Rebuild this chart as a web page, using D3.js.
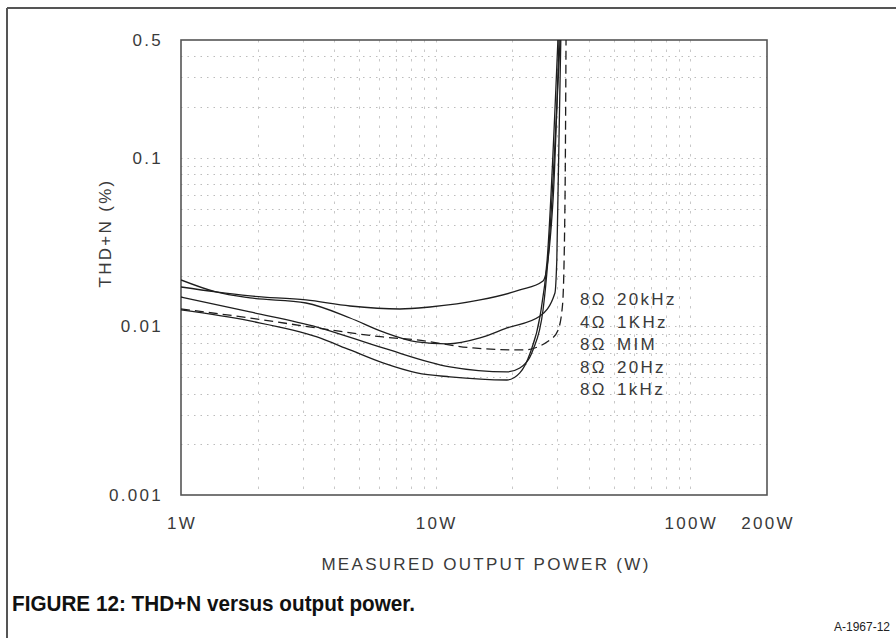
<!DOCTYPE html>
<html>
<head>
<meta charset="utf-8">
<script src="https://cdn.jsdelivr.net/npm/d3@7"></script>
<style>
  html, body { margin: 0; padding: 0; background: #fff; }
  svg { display: block; }
  .lbl { font-family: "Liberation Sans", Arial, sans-serif; font-size: 17px; fill: #3a3a3a; letter-spacing: 2.3px; }
</style>
</head>
<body>
<svg id="chart" width="896" height="638"></svg>
<script>
// ---- data ----
const seriesNames = ["8Ω  20kHz", "4Ω  1KHz", "8Ω  MIM", "8Ω  20Hz", "8Ω  1kHz"];
const seriesDashed = [false, false, true, false, false];

const power20k = [1, 1.372, 1.866, 3.096, 4.61, 7.24, 9.50, 14.93, 21.4, 26.4, 28.9, 30.5];
const thd20k   = [0.01714, 0.01601, 0.01516, 0.01435, 0.01322, 0.01269, 0.01304, 0.01435, 0.01645, 0.01861, 0.0562, 0.5];

const power4o1k = [1, 1.372, 1.866, 3.096, 4.61, 6.21, 8.44, 11.08, 14.93, 19.05, 25.7, 29.4, 29.9, 31.0];
const thd4o1k   = [0.01886, 0.01601, 0.01475, 0.01377, 0.01122, 0.00927, 0.00809, 0.00787, 0.00854, 0.00979, 0.01153, 0.01579, 0.02478, 0.5];

const powerMIM = [1, 1.866, 3.42, 6.21, 8.44, 14.01, 22.0, 28.1, 30.2, 31.5, 32.2, 32.5];
const thdMIM   = [0.01269, 0.01122, 0.00979, 0.00866, 0.00831, 0.00745, 0.00725, 0.00831, 0.00946, 0.0135, 0.0562, 0.5];

const power20 = [1, 1.866, 3.42, 6.21, 11.38, 19.05, 21.4, 24.1, 26.4, 27.6, 30.8];
const thd20   = [0.01495, 0.01218, 0.00992, 0.00745, 0.00575, 0.00537, 0.00567, 0.00725, 0.01252, 0.02478, 0.5];

const power1k = [1, 1.866, 3.42, 4.61, 6.21, 8.44, 11.38, 19.05, 21.4, 23.5, 25.7, 27.4, 30.2];
const thd1k   = [0.01252, 0.01077, 0.00866, 0.00725, 0.00607, 0.00530, 0.00502, 0.00481, 0.00530, 0.00696, 0.01153, 0.02478, 0.5];

const seriesPower = [power20k, power4o1k, powerMIM, power20, power1k];
const seriesThd   = [thd20k, thd4o1k, thdMIM, thd20, thd1k];

const xTickValues = [1, 10, 100, 200];
const xTickLabels = ["1W", "10W", "100W", "200W"];
const yTickValues = [0.5, 0.1, 0.01, 0.001];
const yTickLabels = ["0.5", "0.1", "0.01", "0.001"];

const xGrid = [2, 3, 4, 5, 6, 7, 8, 9, 10, 20, 30, 40, 50, 60, 70, 80, 90, 100];
const yGrid = [0.002, 0.003, 0.004, 0.005, 0.006, 0.007, 0.008, 0.009,
               0.01, 0.02, 0.03, 0.04, 0.05, 0.06, 0.07, 0.08, 0.09,
               0.1, 0.2, 0.3, 0.4];

const xTitle = "MEASURED OUTPUT POWER (W)";
const yTitle = "THD+N (%)";
const caption = "FIGURE 12: THD+N versus output power.";
const figId = "A-1967-12";

// ---- layout ----
const svg = d3.select("#chart");
const W = 896, H = 638;
const plot = { left: 181, top: 40, right: 767, bottom: 495 };

svg.append("rect").attr("width", W).attr("height", H).attr("fill", "#fff");

// outer frame (top and left rules)
svg.append("line").attr("x1", 7).attr("x2", W).attr("y1", 8).attr("y2", 8)
  .attr("stroke", "#555").attr("stroke-width", 2);
svg.append("line").attr("x1", 7).attr("x2", 7).attr("y1", 8).attr("y2", H)
  .attr("stroke", "#555").attr("stroke-width", 2);

const x = d3.scaleLog().domain([1, 200]).range([plot.left, plot.right]);
const y = d3.scaleLog().domain([0.001, 0.5]).range([plot.bottom, plot.top]);

// grid
const g = svg.append("g");
g.selectAll(".hg").data(yGrid).enter().append("line")
  .attr("x1", plot.left).attr("x2", plot.right)
  .attr("y1", d => Math.round(y(d)) + 0.5).attr("y2", d => Math.round(y(d)) + 0.5)
  .attr("stroke", "#bcbcbc").attr("stroke-width", 1)
  .attr("stroke-dasharray", "1.5,5");
g.selectAll(".vg").data(xGrid).enter().append("line")
  .attr("y1", plot.top).attr("y2", plot.bottom)
  .attr("x1", d => Math.round(x(d)) + 0.5).attr("x2", d => Math.round(x(d)) + 0.5)
  .attr("stroke", "#c8c8c8").attr("stroke-width", 1)
  .attr("stroke-dasharray", "2.5,7");

// plot frame
svg.append("rect")
  .attr("x", plot.left).attr("y", plot.top)
  .attr("width", plot.right - plot.left).attr("height", plot.bottom - plot.top)
  .attr("fill", "none").attr("stroke", "#555").attr("stroke-width", 1.6);

// curves
svg.append("clipPath").attr("id", "clip").append("rect")
  .attr("x", plot.left).attr("y", plot.top)
  .attr("width", plot.right - plot.left).attr("height", plot.bottom - plot.top);

const line = d3.line().x(d => x(d[0])).y(d => y(d[1])).curve(d3.curveMonotoneX);
const curves = svg.append("g").attr("clip-path", "url(#clip)");
seriesPower.forEach((pw, i) => {
  const pts = pw.map((p, j) => [p, seriesThd[i][j]]);
  curves.append("path").datum(pts)
    .attr("d", line)
    .attr("fill", "none")
    .attr("stroke", "#1e1e1e")
    .attr("stroke-width", 1.3)
    .attr("stroke-dasharray", seriesDashed[i] ? "9,5" : null);
});

// legend labels
const legX = 580, legY0 = 305, legDy = 22.5;
seriesNames.forEach((name, i) => {
  const parts = name.split("  ");
  const t = svg.append("text").attr("class", "lbl").attr("y", legY0 + i * legDy);
  t.append("tspan").attr("x", legX).text(parts[0]);
  t.append("tspan").attr("x", legX + 37).text(parts[1]);
});

// y tick labels
svg.selectAll(".yt").data(yTickValues).enter().append("text")
  .attr("class", "lbl")
  .attr("x", 163).attr("y", d => y(d) + 6)
  .attr("text-anchor", "end")
  .text((d, i) => yTickLabels[i]);

// x tick labels
svg.selectAll(".xt").data(xTickValues).enter().append("text")
  .attr("class", "lbl")
  .attr("x", d => x(d) + 1).attr("y", 529)
  .attr("text-anchor", "middle")
  .text((d, i) => xTickLabels[i]);

// axis titles
svg.append("text").attr("class", "lbl")
  .attr("x", 486).attr("y", 570).attr("text-anchor", "middle")
  .text(xTitle);
svg.append("text").attr("class", "lbl")
  .attr("transform", "translate(111,233) rotate(-90)")
  .attr("text-anchor", "middle")
  .text(yTitle);

// caption (condensed bold)
svg.append("text")
  .attr("x", 12).attr("y", 611)
  .attr("textLength", 403)
  .attr("lengthAdjust", "spacingAndGlyphs")
  .style("font-family", "'Liberation Sans', Arial, sans-serif")
  .style("font-weight", "bold")
  .style("font-size", "22px")
  .attr("fill", "#111")
  .text(caption);

svg.append("text")
  .attr("x", 890).attr("y", 631).attr("text-anchor", "end")
  .style("font-family", "'Liberation Sans', Arial, sans-serif")
  .style("font-size", "12px")
  .attr("fill", "#222")
  .text(figId);
</script>
</body>
</html>
